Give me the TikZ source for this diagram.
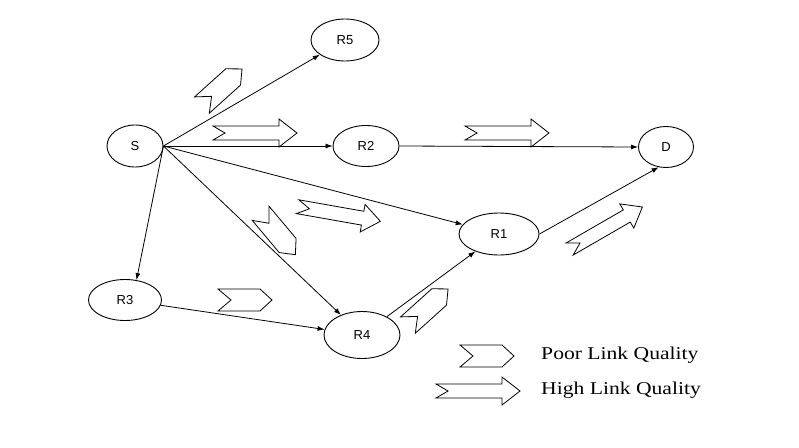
\documentclass[tikz,border=0pt]{standalone}
\usepackage{fontspec}
\setmainfont{Liberation Serif}
\newfontfamily\labelfont{Liberation Sans}
\usetikzlibrary{arrows.meta,shapes.geometric}

\begin{document}
\begin{tikzpicture}[x=1pt,y=-1pt,>={Latex[length=7pt,width=5pt]}]
\tikzset{
  site/.style={draw,ellipse,line width=0.9pt,inner sep=0pt,font=\labelfont\fontsize{13}{13}\selectfont},
  link/.style={->,line width=0.8pt},
  poor/.pic={\draw[line width=0.8pt,fill=white] (-27,-11) -- (15,-11) -- (27,0) -- (15,11) -- (-27,11) -- (-14,0) -- cycle;},
  high/.pic={\draw[line width=0.8pt,fill=white] (-42,-7) -- (24,-7) -- (24,-14) -- (42,0) -- (24,14) -- (24,7) -- (-42,7) -- (-30,0) -- cycle;},
  legend/.style={anchor=west,font=\fontsize{18}{18}\selectfont,xscale=1.2}
}
\useasboundingbox (0,0) rectangle (799,447);

% relay nodes
\node[site,minimum width=56pt,minimum height=42pt] (S) at (135,146) {S};
\node[site,minimum width=68pt,minimum height=42pt] (R5) at (345,40) {R5};
\node[site,minimum width=66pt,minimum height=41pt] (R2) at (366,146) {R2};
\node[site,minimum width=55pt,minimum height=41pt] (D) at (666,147) {D};
\node[site,minimum width=80pt,minimum height=42pt] (R1) at (499,234) {R1};
\node[site,minimum width=73pt,minimum height=41pt] (R3) at (125,300) {R3};
\node[site,minimum width=76pt,minimum height=47pt] (R4) at (362,335) {R4};

% links
\draw[link] (S.east) -- (R5);
\draw[link] (S.east) -- (R2.west);
\draw[link] (R2.east) -- (D.west);
\draw[link] (S.east) -- (R1);
\draw[link] (S.east) -- (R4);
\draw[link] (S.east) -- (R3.60);
\draw[link] (R3) -- (R4);
\draw[link] (R4) -- (R1);
\draw[link] (R1.east) -- (D.250);

% link quality marks
\pic[rotate=42] at (222,87) {poor};
\pic[rotate=-50] at (278,234) {poor};
\pic at (245,300) {poor};
\pic[rotate=42] at (428,307) {poor};
\pic at (255,133) {high};
\pic at (507,133) {high};
\pic[rotate=-10] at (339,214) {high};
\pic[rotate=30] at (606,228) {high};

% legend
\pic at (487,356) {poor};
\pic at (478,391) {high};
\node[legend] (poorlbl) at (537,355) {Poor Link Quality};
\node[legend] (highlbl) at (537,390) {High Link Quality};
\end{tikzpicture}
\end{document}
